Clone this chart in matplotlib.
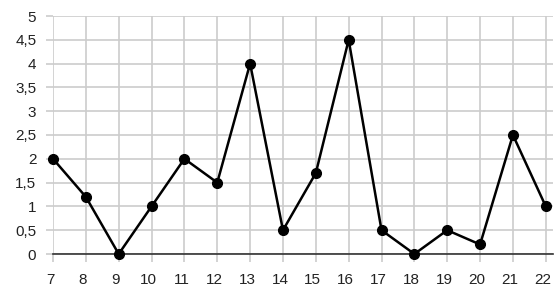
import matplotlib
matplotlib.use("Agg")
import matplotlib.pyplot as plt
import matplotlib.transforms as mtransforms
from matplotlib.ticker import FuncFormatter, MultipleLocator

x_vals = [7, 8, 9, 10, 11, 12, 13, 14, 15, 16, 17, 18, 19, 20, 21, 22]
y_vals = [2, 1.2, 0, 1, 2, 1.5, 4, 0.5, 1.7, 4.5, 0.5, 0, 0.5, 0.2, 2.5, 1]

plt.rcParams['font.family'] = ['Liberation Sans', 'DejaVu Sans']

fig = plt.figure(figsize=(5.6, 2.97), dpi=100)
ax = fig.add_axes([53/560, 43/297, 500/560, 238/297])

ax.plot(x_vals, y_vals, '-o', color='black', lw=1.8, ms=7, zorder=5, clip_on=False)

ax.set_xlim(7, 22.22)
ax.set_ylim(0, 5)
ax.set_xticks(x_vals)
ax.yaxis.set_major_locator(MultipleLocator(0.5))
ax.yaxis.set_major_formatter(FuncFormatter(lambda v, p: ('%g' % v).replace('.', ',')))

ax.grid(True, color='#cccccc', lw=1.2)
ax.set_axisbelow(True)
for s in ['top', 'right', 'left']:
    ax.spines[s].set_visible(False)
ax.spines['bottom'].set_color('#333333')
ax.spines['bottom'].set_linewidth(1.2)
ax.spines['bottom'].set_zorder(3)

ax.tick_params(axis='y', length=5, width=1.2, color='#cccccc', pad=7,
               labelsize=11, labelcolor='#222222')
ax.tick_params(axis='x', length=6, width=1.2, color='#cccccc', pad=8,
               labelsize=11, labelcolor='#222222')

offset = mtransforms.ScaledTranslation(-3/100, 0, fig.dpi_scale_trans)
for lab in ax.get_xticklabels():
    lab.set_transform(lab.get_transform() + offset)

fig.savefig('out.png', dpi=100)
